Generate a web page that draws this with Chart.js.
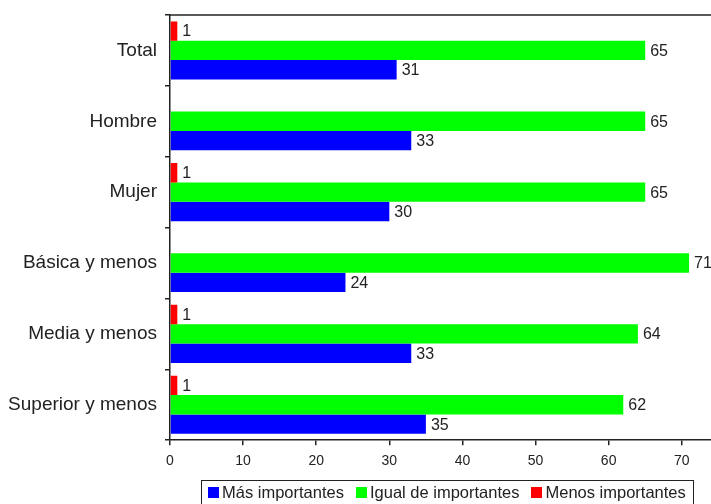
<!DOCTYPE html>
<html>
<head>
<meta charset="utf-8">
<script src="https://cdn.jsdelivr.net/npm/chart.js@4/dist/chart.umd.min.js"></script>
<style>
  html, body { margin: 0; padding: 0; background: #fff; }
  #wrap { position: relative; width: 711px; height: 504px; overflow: hidden; }
  #legend {
    position: absolute; left: 201px; top: 480px; width: 493px; height: 28px;
    border: 1.5px solid #222; box-sizing: border-box;
    font-family: Arial, "Liberation Sans", sans-serif; font-size: 16.5px; color: #222;
    display: flex; align-items: flex-start; padding-top: 2px; padding-left: 6px; white-space: nowrap;
  }
  #legend .item { display: flex; align-items: center; margin-right: 12px; }
  #legend .box { width: 11px; height: 11px; margin-right: 3px; }
</style>
</head>
<body>
<div id="wrap">
  <canvas id="chart" width="711" height="504"></canvas>
  <div id="legend"></div>
</div>
<script>
// categories (top to bottom) and series values
const categories = ['Total', 'Hombre', 'Mujer', 'Básica y menos', 'Media y menos', 'Superior y menos'];
const masImportantes = [31, 33, 30, 24, 33, 35];
const igualImportantes = [65, 65, 65, 71, 64, 62];
const menosImportantes = [1, null, 1, null, 1, 1];
const xMax = 74;
const xStep = 10;

const FONT = 'Arial, "Liberation Sans", sans-serif';

// value labels at the end of each bar
const barValuePlugin = {
  id: 'barValues',
  afterDatasetsDraw: (chart) => {
    const ctx = chart.ctx;
    ctx.save();
    ctx.font = '16px ' + FONT;
    ctx.fillStyle = '#222';
    ctx.textAlign = 'left';
    ctx.textBaseline = 'middle';
    chart.data.datasets.forEach((ds, di) => {
      const meta = chart.getDatasetMeta(di);
      meta.data.forEach((bar, i) => {
        const v = ds.data[i];
        if (v === null || v === undefined) return;
        ctx.fillText(String(v), bar.x + 5, bar.y + 1);
      });
    });
    ctx.restore();
  }
};

// top frame line of the plot area
const topLinePlugin = {
  id: 'topLine',
  afterDraw: (chart) => {
    const ctx = chart.ctx;
    const a = chart.chartArea;
    ctx.save();
    ctx.beginPath();
    ctx.moveTo(a.left, a.top);
    ctx.lineTo(chart.width, a.top);
    ctx.lineWidth = 1.5;
    ctx.strokeStyle = '#222';
    ctx.stroke();
    ctx.restore();
  }
};

const chart = new Chart(document.getElementById('chart').getContext('2d'), {
  type: 'bar',
  data: {
    labels: categories,
    datasets: [
      { label: 'Menos importantes', data: menosImportantes, backgroundColor: '#ff0000' },
      { label: 'Igual de importantes', data: igualImportantes, backgroundColor: '#00ff00' },
      { label: 'Más importantes', data: masImportantes, backgroundColor: '#0000ff' }
    ]
  },
  options: {
    indexAxis: 'y',
    responsive: false,
    animation: false,
    categoryPercentage: 0.82,
    barPercentage: 1.0,
    layout: { padding: { top: 15, right: 0, bottom: 26, left: 0 } },
    plugins: {
      legend: { display: false },
      tooltip: { enabled: false }
    },
    scales: {
      x: {
        min: 0,
        max: xMax,
        grid: { drawOnChartArea: false, drawTicks: true, tickLength: 5, color: '#222', lineWidth: 1.5 },
        border: { display: true, color: '#222', width: 1.5 },
        ticks: {
          stepSize: xStep,
          includeBounds: false,
          padding: 8,
          color: '#222',
          font: { family: FONT, size: 14 },
          maxRotation: 0
        }
      },
      y: {
        grid: { drawOnChartArea: false, drawTicks: true, tickLength: 5, color: '#222', lineWidth: 1.5, offset: true },
        border: { display: true, color: '#222', width: 1.5 },
        ticks: {
          padding: 8,
          color: '#222',
          font: { family: FONT, size: 19 }
        },
        afterFit: (scale) => {
          scale.width = 170;
          scale.paddingTop = 0;
          scale.paddingBottom = 0;
        }
      }
    }
  },
  plugins: [barValuePlugin, topLinePlugin]
});

// legend in the order of the reference (reverse of dataset order)
const legendEl = document.getElementById('legend');
chart.data.datasets.slice().reverse().forEach(ds => {
  const item = document.createElement('div');
  item.className = 'item';
  const box = document.createElement('span');
  box.className = 'box';
  box.style.background = ds.backgroundColor;
  const txt = document.createElement('span');
  txt.textContent = ds.label;
  item.appendChild(box);
  item.appendChild(txt);
  legendEl.appendChild(item);
});
</script>
</body>
</html>
